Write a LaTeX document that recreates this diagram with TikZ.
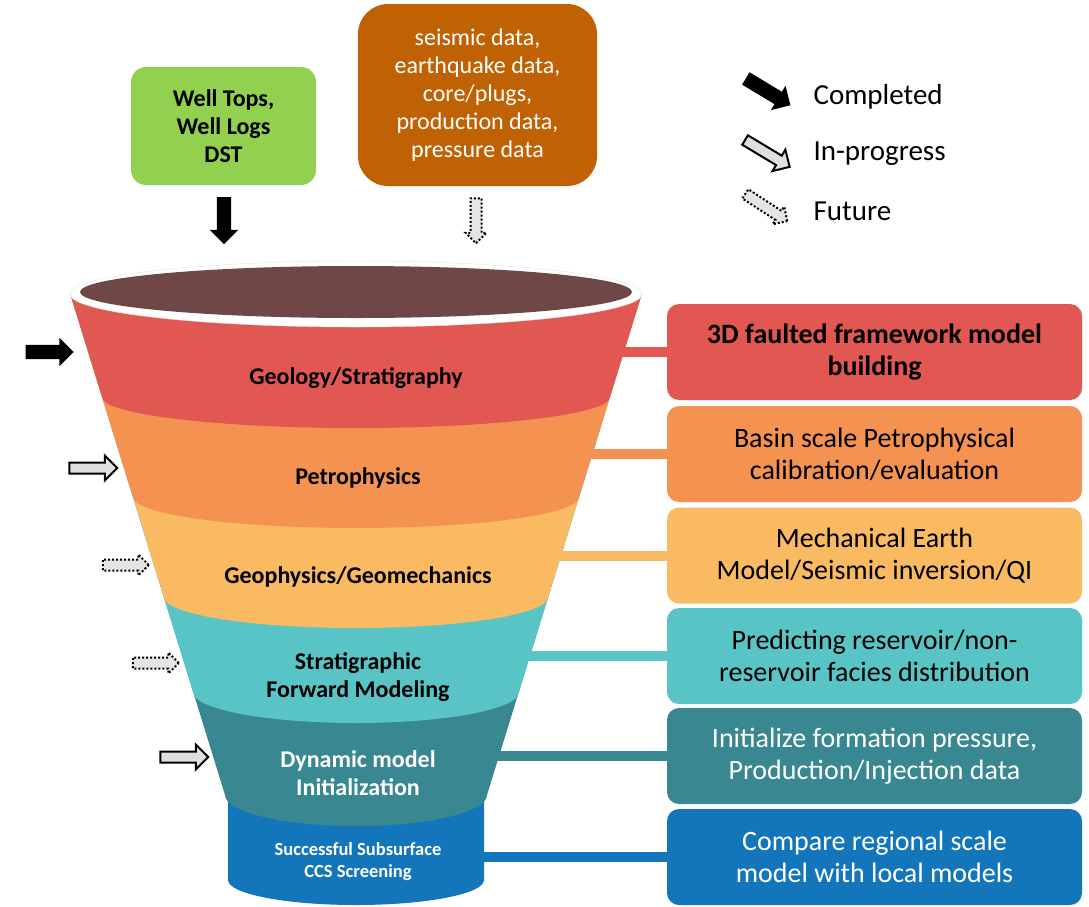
\documentclass[tikz,border=0pt]{standalone}
\usepackage{fontspec}
\setmainfont{Carlito}
\usetikzlibrary{shapes.arrows}

\definecolor{geored}{RGB}{224,88,81}
\definecolor{petroorange}{RGB}{244,146,82}
\definecolor{geoyellow}{RGB}{250,186,98}
\definecolor{stratteal}{RGB}{88,196,197}
\definecolor{dynteal}{RGB}{56,135,145}
\definecolor{ccsblue}{RGB}{20,118,186}
\definecolor{wellgreen}{RGB}{146,208,80}
\definecolor{dataorange}{RGB}{192,98,4}
\definecolor{funneltop}{RGB}{111,71,70}

\begin{document}
\begin{tikzpicture}[x=1pt,y=-1pt,
        rbox/.style={rounded corners=12pt, minimum width=415pt, minimum height=96pt,
                     inner sep=0pt, align=center, font=\fontsize{28}{32}\selectfont},
        flabel/.style={align=center, font=\bfseries\fontsize{24}{27.5}\selectfont},
        bar/.style={line width=10pt},
        flecha/.style={single arrow, single arrow head indent=0pt, inner xsep=0pt,
                       inner ysep=7pt, single arrow head extend=7pt, minimum height=48pt},
        hecho/.style={flecha, fill=black},
        encurso/.style={flecha, fill=gray!25, draw=black, line width=2pt,
                        inner ysep=4.5pt, single arrow head extend=7pt},
        futuro/.style={flecha, fill=gray!20, draw=black, line width=2pt,
                       dash pattern=on 2pt off 2pt,
                       inner ysep=4.5pt, single arrow head extend=5pt, minimum height=46pt}]
    \useasboundingbox (0,0) rectangle (1089,906);

    % Embudo: primero la silueta azul, luego las bandas de abajo hacia arriba
    \fill[ccsblue] (70,293) -- (228,800) -- (228,880)
        arc[start angle=180, end angle=0, x radius=128, y radius=25]
        -- (484,800) -- (642,293) -- cycle;
    \foreach \ye/\rx/\col in {795/131/dynteal, 692/162.9/stratteal,
                              597/192.2/geoyellow, 497/223.1/petroorange,
                              397/253.9/geored}
        \fill[\col] (70,293) -- ({356-\rx},\ye)
            arc[start angle=180, end angle=0, x radius=\rx, y radius=31]
            -- (642,293) -- cycle;
    \filldraw[fill=white, draw=black!12] (356,294) ellipse[x radius=286, y radius=33];
    \fill[funneltop] (356,292) ellipse[x radius=276, y radius=26];

    % Etiquetas del embudo
    \node[flabel] (geolabel) at (356,378) {Geology/Stratigraphy};
    \node[flabel] (petrolabel) at (358,478) {Petrophysics};
    \node[flabel] (geophylabel) at (358,577) {Geophysics/Geomechanics};
    \node[flabel] (stratlabel) at (358,677) {Stratigraphic\\Forward Modeling};
    \node[flabel, text=white] (dynlabel) at (358,773) {Dynamic model\\Initialization};
    \node[flabel, text=white, font=\bfseries\fontsize{18.5}{22}\selectfont]
        (ccslabel) at (358,862) {Successful Subsurface\\CCS Screening};

    % Cajas de la derecha
    \node[rbox, fill=geored, font=\bfseries\fontsize{28}{32}\selectfont]
        (geobox) at (874.5,352) {3D faulted framework model\\building};
    \node[rbox, fill=petroorange] (petrobox) at (874.5,454)
        {Basin scale Petrophysical\\calibration/evaluation};
    \node[rbox, fill=geoyellow] (geophybox) at (874.5,555.5)
        {Mechanical Earth\\Model/Seismic inversion/QI};
    \node[rbox, fill=stratteal] (stratbox) at (874.5,656)
        {Predicting reservoir/non-\\reservoir facies distribution};
    \node[rbox, fill=dynteal, text=white] (dynbox) at (874.5,756)
        {Initialize formation pressure,\\Production/Injection data};
    \node[rbox, fill=ccsblue, text=white] (ccsbox) at (874.5,857)
        {Compare regional scale\\model with local models};

    % Conectores embudo -> cajas
    \coordinate (geoedge) at (612,352);
    \coordinate (petroedge) at (582,454);
    \coordinate (geophyedge) at (550,555.5);
    \coordinate (stratedge) at (520,656);
    \coordinate (dynedge) at (488,756);
    \coordinate (ccsedge) at (478,857);
    \draw[bar, geored] (geoedge) -- (geobox.west);
    \draw[bar, petroorange] (petroedge) -- (petrobox.west);
    \draw[bar, geoyellow] (geophyedge) -- (geophybox.west);
    \draw[bar, stratteal] (stratedge) -- (stratbox.west);
    \draw[bar, dynteal] (dynedge) -- (dynbox.west);
    \draw[bar, ccsblue] (ccsedge) -- (ccsbox.west);

    % Datos de entrada
    \node[fill=wellgreen, rounded corners=15pt, minimum width=185pt, minimum height=118pt,
          align=center, font=\bfseries\fontsize{24}{28}\selectfont]
        (pozos) at (223.5,126) {Well Tops,\\Well Logs\\DST};
    \node[fill=dataorange, text=white, rounded corners=30pt, minimum width=239pt,
          minimum height=182pt, align=center, font=\fontsize{24}{28}\selectfont]
        (datos) at (477.5,95)
        {seismic data,\\earthquake data,\\core/plugs,\\production data,\\pressure data};
    \node[hecho, rotate=-90, minimum height=47pt] (pozosin) at (224,217) {};
    \node[futuro, rotate=-90, minimum height=45pt] (datosin) at (476,218) {};

    % Flechas de estado junto al embudo
    \node[hecho] (fgeo) at (46,352) {};
    \node[encurso] (fpetro) at (90.5,468) {};
    \node[futuro] (fgeophy) at (123,565) {};
    \node[futuro] (fstrat) at (153,663) {};
    \node[encurso] (fdyn) at (181.5,757) {};

    % Leyenda
    \node[hecho, rotate=-31, minimum height=52pt] (leyhecho) at (765,90) {};
    \node[encurso, rotate=-31, minimum height=52pt] (leyencurso) at (765,152) {};
    \node[futuro, rotate=-33, minimum height=50pt] (leyfuturo) at (764,206) {};
    \node[anchor=west, font=\fontsize{29}{34}\selectfont] (txthecho) at (810,97) {Completed};
    \node[anchor=west, font=\fontsize{29}{34}\selectfont] (txtencurso) at (810,154) {In-progress};
    \node[anchor=west, font=\fontsize{29}{34}\selectfont] (txtfuturo) at (810,211) {Future};
\end{tikzpicture}
\end{document}
